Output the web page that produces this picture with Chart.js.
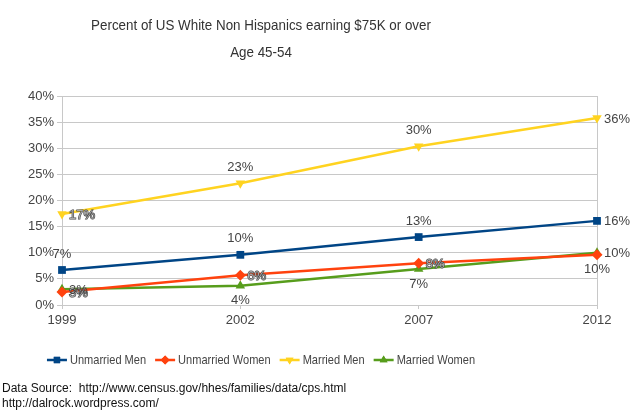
<!DOCTYPE html>
<html>
<head>
<meta charset="utf-8">
<script src="https://cdn.jsdelivr.net/npm/chart.js@4/dist/chart.umd.min.js"></script>
<style>
  html, body { margin: 0; padding: 0; background: #fff; }
  #c { display: block; }
</style>
</head>
<body>
<canvas id="c" width="640" height="415" style="width:640px;height:415px"></canvas>
<script>
// ---- data ----
const years = ['1999', '2002', '2007', '2012'];
const unmarriedMen   = [6.7, 9.6, 13.0, 16.1];
const unmarriedWomen = [2.5, 5.7, 8.0, 9.6];
const marriedMen     = [17.4, 23.3, 30.4, 35.8];
const marriedWomen   = [3.0, 3.7, 6.9, 10.0];
const seriesNames = ['Unmarried Men', 'Unmarried Women', 'Married Men', 'Married Women'];
const titleLines = ['Percent of US White Non Hispanics earning $75K or over', 'Age 45-54'];
const footerLines = ['Data Source:  http://www.census.gov/hhes/families/data/cps.html', 'http://dalrock.wordpress.com/'];

// ---- styles ----
const colors = ['#004586', '#ff420e', '#ffd320', '#579d1c'];
const pointStyles = ['rect', 'rectRot', 'triangle', 'triangle'];
const pointRotations = [0, 0, 180, 0];
const labelPos = [
  ['top', 'top', 'top', 'right'],
  ['right', 'right', 'right', 'bottom'],
  ['right', 'top', 'top', 'right'],
  ['right', 'bottom', 'bottom', 'right']
];
const labelOutline = [
  [false, false, false, false],
  [true, true, true, false],
  [true, false, false, false],
  [false, false, false, false]
];
const FONT = "'Liberation Sans', Arial, sans-serif";
const CENTER_X = 261;

// draws condensed text (horizontal squeeze) centred or left-aligned
function squeezedText(ctx, txt, x, y, sx, align) {
  ctx.save();
  ctx.translate(x, y);
  ctx.scale(sx, 1);
  ctx.textAlign = align; ctx.textBaseline = 'middle';
  ctx.fillText(txt, 0, 0);
  ctx.restore();
}

const titleAndLegend = {
  id: 'titleAndLegend',
  afterDraw(chart) {
    const ctx = chart.ctx;
    ctx.save();
    // title
    ctx.font = '15px ' + FONT;
    ctx.fillStyle = '#333';
    const tsx = 0.892;
    squeezedText(ctx, titleLines[0], CENTER_X, 26, tsx, 'center');
    squeezedText(ctx, titleLines[1], CENTER_X, 53, tsx, 'center');
    // legend
    ctx.font = '13px ' + FONT;
    const lsx = 0.85;
    const lineW = 20, gapT = 3, gapItem = 9;
    const widths = seriesNames.map(n => ctx.measureText(n).width * lsx);
    const total = widths.reduce((a, w) => a + lineW + gapT + w, 0) + gapItem * (seriesNames.length - 1);
    let x = CENTER_X - total / 2;
    const y = 360;
    seriesNames.forEach((n, i) => {
      ctx.strokeStyle = colors[i]; ctx.fillStyle = colors[i]; ctx.lineWidth = 2.5;
      ctx.beginPath(); ctx.moveTo(x, y); ctx.lineTo(x + lineW, y); ctx.stroke();
      Chart.helpers.drawPoint(ctx, { pointStyle: pointStyles[i], rotation: pointRotations[i], radius: 4.5, borderWidth: 0 }, x + lineW / 2, y);
      ctx.fill();
      ctx.fillStyle = '#444';
      squeezedText(ctx, n, x + lineW + gapT, y, lsx, 'left');
      x += lineW + gapT + widths[i] + gapItem;
    });
    // footer
    ctx.font = '12px ' + FONT;
    ctx.fillStyle = '#111';
    ctx.textAlign = 'left'; ctx.textBaseline = 'middle';
    ctx.fillText(footerLines[0], 2, 389);
    ctx.fillText(footerLines[1], 2, 404);
    ctx.restore();
  }
};

const valueLabels = {
  id: 'valueLabels',
  afterDatasetsDraw(chart) {
    const ctx = chart.ctx;
    ctx.save();
    ctx.font = '13px ' + FONT;
    chart.data.datasets.forEach((ds, di) => {
      const meta = chart.getDatasetMeta(di);
      meta.data.forEach((pt, i) => {
        const txt = Math.round(ds.data[i]) + '%';
        const pos = labelPos[di][i];
        let x = pt.x, y = pt.y;
        if (pos === 'top') { ctx.textAlign = 'center'; ctx.textBaseline = 'middle'; y -= 16; }
        else if (pos === 'bottom') { ctx.textAlign = 'center'; ctx.textBaseline = 'middle'; y += 15; }
        else { ctx.textAlign = 'left'; ctx.textBaseline = 'middle'; x += 7; y += 1; }
        if (labelOutline[di][i]) {
          ctx.lineWidth = 1.2; ctx.strokeStyle = '#444'; ctx.fillStyle = '#aaa';
          ctx.strokeText(txt, x, y); ctx.fillText(txt, x, y);
        } else {
          ctx.fillStyle = '#444'; ctx.fillText(txt, x, y);
        }
      });
    });
    ctx.restore();
  }
};

const series = [unmarriedMen, unmarriedWomen, marriedMen, marriedWomen];
new Chart(document.getElementById('c'), {
  type: 'line',
  data: {
    labels: years,
    datasets: series.map((d, i) => ({
      label: seriesNames[i],
      data: d,
      borderColor: colors[i],
      backgroundColor: colors[i],
      borderWidth: 2.5,
      pointStyle: pointStyles[i],
      rotation: pointRotations[i],
      pointRadius: 5.5,
      pointBorderWidth: 0,
      tension: 0,
      clip: false
    }))
  },
  options: {
    responsive: false,
    devicePixelRatio: 1,
    animation: false,
    layout: { padding: { left: 0, right: 43, top: 96, bottom: 80 } },
    plugins: {
      title: { display: false },
      legend: { display: false },
      tooltip: { enabled: false }
    },
    scales: {
      x: {
        afterFit: (s) => { s.height = 30; },
        grid: {
          color: (c) => (c.index === 0 || c.index === years.length - 1) ? '#c8c8c8' : 'rgba(0,0,0,0)',
          tickColor: '#c8c8c8',
          tickLength: 4,
          drawOnChartArea: true
        },
        border: { color: '#c8c8c8' },
        ticks: { color: '#444', font: { family: FONT, size: 13 }, padding: 4, maxRotation: 0 }
      },
      y: {
        min: 0, max: 40,
        afterFit: (s) => { s.width = 62; },
        grid: { color: '#c8c8c8', tickColor: '#c8c8c8', tickLength: 5 },
        border: { color: '#c8c8c8' },
        ticks: {
          stepSize: 5,
          color: '#444',
          font: { family: FONT, size: 13 },
          padding: 3,
          callback: (v) => v + '%'
        }
      }
    }
  },
  plugins: [valueLabels, titleAndLegend]
});
</script>
</body>
</html>
